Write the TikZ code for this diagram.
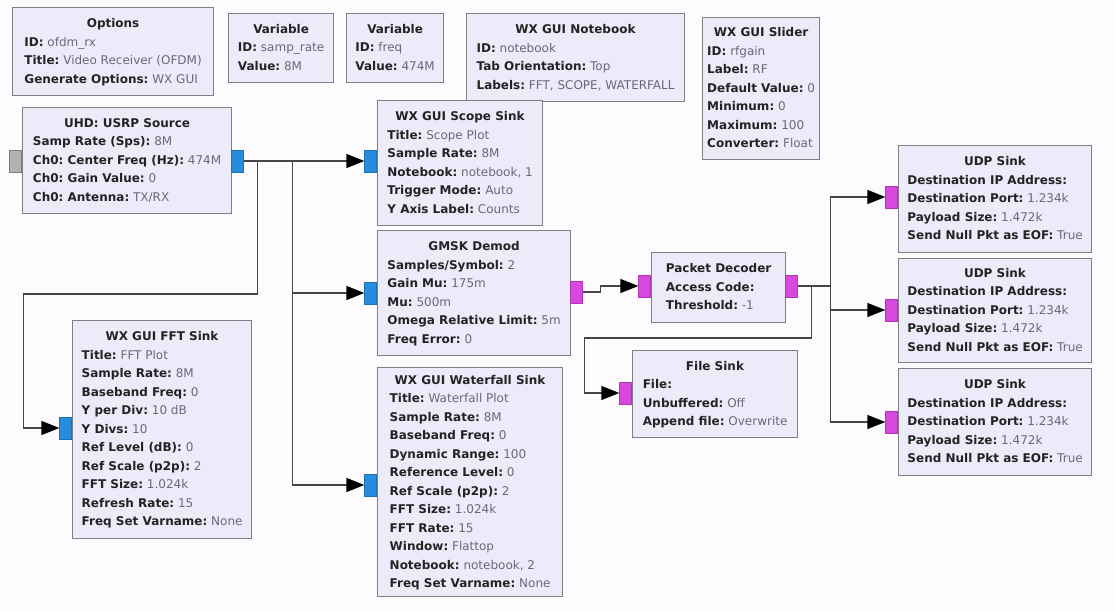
\documentclass[tikz,border=0pt]{standalone}
\usepackage{fontspec}
\setmainfont{DejaVu Sans}
\usetikzlibrary{arrows.meta, positioning}
\frenchspacing
\definecolor{grcbg}{RGB}{253, 251, 253}
\definecolor{grcfill}{RGB}{235, 235, 250}
\definecolor{grcdraw}{RGB}{128, 128, 128}
\definecolor{grcblue}{RGB}{38, 140, 222}
\definecolor{grcmagenta}{RGB}{216, 72, 224}
\definecolor{grcgray}{RGB}{178, 178, 178}
\definecolor{grcwire}{RGB}{70, 70, 70}
\definecolor{grckey}{RGB}{35, 35, 35}
\definecolor{grcval}{RGB}{105, 105, 118}

% key/value line and block text
\newcommand{\kv}[2]{\textbf{#1:}\ {\color{grcval}#2}}
\newcommand{\blocktext}[2]{\begin{tabular}{@{}l@{}}\multicolumn{1}{@{}c@{}}{\textbf{#1}}\\#2\end{tabular}}

\begin{document}
\begin{tikzpicture}[
    x=1pt, y=-1pt,
    block/.style={rectangle, draw=grcdraw, fill=grcfill, line width=1.2pt,
        anchor=north west, inner sep=0pt, text=grckey,
        font=\fontsize{12}{18.5}\selectfont},
    port/.style={rectangle, inner sep=0pt, minimum width=12pt, minimum height=22pt,
        line width=0.6pt},
    inport/.style={port, anchor=east},
    outport/.style={port, anchor=west},
    blueport/.style={fill=grcblue, draw=grcblue!80!black},
    magport/.style={fill=grcmagenta, draw=grcmagenta!80!black},
    grayport/.style={fill=grcgray, draw=grcgray!70!black},
    wire/.style={draw=grcwire, line width=1.3pt},
    arrow/.style={wire, -{Triangle[length=18pt, width=14pt, color=black]}}
]

% === Canvas ===
\fill[grcbg] (0,0) rectangle (1115,612);

% === Variables and options (top row) ===
\node[block, minimum width=201pt, minimum height=88pt] (opts) at (12,7)
    {\blocktext{Options}{\kv{ID}{ofdm\_rx}\\ \kv{Title}{Video Receiver (OFDM)}\\
     \kv{Generate Options}{WX GUI}}};
\node[block, minimum width=105pt, minimum height=69pt] (vsamp) at (228,13)
    {\blocktext{Variable}{\kv{ID}{samp\_rate}\\ \kv{Value}{8M}}};
\node[block, minimum width=97pt, minimum height=69pt] (vfreq) at (346,13)
    {\blocktext{Variable}{\kv{ID}{freq}\\ \kv{Value}{474M}}};
\node[block, minimum width=218pt, minimum height=88pt] (nbook) at (466,13)
    {\blocktext{WX GUI Notebook}{\kv{ID}{notebook}\\ \kv{Tab Orientation}{Top}\\
     \kv{Labels}{FFT, SCOPE, WATERFALL}}};
\node[block, minimum width=117pt, minimum height=142pt] (slider) at (702,17)
    {\blocktext{WX GUI Slider}{\kv{ID}{rfgain}\\ \kv{Label}{RF}\\ \kv{Default Value}{0}\\
     \kv{Minimum}{0}\\ \kv{Maximum}{100}\\ \kv{Converter}{Float}}};

% === Source ===
\node[block, minimum width=209pt, minimum height=106pt] (usrp) at (22,107)
    {\blocktext{UHD: USRP Source}{\kv{Samp Rate (Sps)}{8M}\\
     \kv{Ch0: Center Freq (Hz)}{474M}\\ \kv{Ch0: Gain Value}{0}\\ \kv{Ch0: Antenna}{TX/RX}}};

% === Sinks and demodulator ===
\node[block, minimum width=165pt, minimum height=125pt] (scope) at (377,100)
    {\blocktext{WX GUI Scope Sink}{\kv{Title}{Scope Plot}\\ \kv{Sample Rate}{8M}\\
     \kv{Notebook}{notebook, 1}\\ \kv{Trigger Mode}{Auto}\\ \kv{Y Axis Label}{Counts}}};
\node[block, minimum width=193pt, minimum height=125pt] (gmsk) at (377,230)
    {\blocktext{GMSK Demod}{\kv{Samples/Symbol}{2}\\ \kv{Gain Mu}{175m}\\ \kv{Mu}{500m}\\
     \kv{Omega Relative Limit}{5m}\\ \kv{Freq Error}{0}}};
\node[block, minimum width=185pt, minimum height=229pt] (wfall) at (377,367)
    {\blocktext{WX GUI Waterfall Sink}{\kv{Title}{Waterfall Plot}\\ \kv{Sample Rate}{8M}\\
     \kv{Baseband Freq}{0}\\ \kv{Dynamic Range}{100}\\ \kv{Reference Level}{0}\\
     \kv{Ref Scale (p2p)}{2}\\ \kv{FFT Size}{1.024k}\\ \kv{FFT Rate}{15}\\
     \kv{Window}{Flattop}\\ \kv{Notebook}{notebook, 2}\\ \kv{Freq Set Varname}{None}}};
\node[block, minimum width=179pt, minimum height=218pt] (fft) at (72,320)
    {\blocktext{WX GUI FFT Sink}{\kv{Title}{FFT Plot}\\ \kv{Sample Rate}{8M}\\
     \kv{Baseband Freq}{0}\\ \kv{Y per Div}{10 dB}\\ \kv{Y Divs}{10}\\
     \kv{Ref Level (dB)}{0}\\ \kv{Ref Scale (p2p)}{2}\\ \kv{FFT Size}{1.024k}\\
     \kv{Refresh Rate}{15}\\ \kv{Freq Set Varname}{None}}};
\node[block, minimum width=134pt, minimum height=70pt] (pkt) at (651,252)
    {\blocktext{Packet Decoder}{\kv{Access Code}{}\\ \kv{Threshold}{-1}}};
\node[block, minimum width=165pt, minimum height=87pt] (file) at (632,350)
    {\blocktext{File Sink}{\kv{File}{}\\ \kv{Unbuffered}{Off}\\ \kv{Append file}{Overwrite}}};

% === UDP sinks ===
\foreach \i/\y/\h in {1/145/107, 2/258/104, 3/368/107} {
    \node[block, minimum width=193pt, minimum height=\h pt] (udp\i) at (898,\y)
        {\blocktext{UDP Sink}{\kv{Destination IP Address}{}\\ \kv{Destination Port}{1.234k}\\
         \kv{Payload Size}{1.472k}\\ \kv{Send Null Pkt as EOF}{True}}};
}

% === Ports ===
\node[inport, grayport] (usrpmsg) at (22,161) {};
\node[outport, blueport] (usrpout) at (231,161) {};
\node[inport, blueport] (scopein) at (377,161) {};
\node[inport, blueport] (gmskin) at (377,293) {};
\node[outport, magport] (gmskout) at (570,292) {};
\node[inport, blueport] (wfallin) at (377,485) {};
\node[inport, blueport] (fftin) at (72,428) {};
\node[inport, magport] (pktin) at (651,286) {};
\node[outport, magport] (pktout) at (785,286) {};
\node[inport, magport] (filein) at (632,393) {};
\node[inport, magport] (udpin1) at (898,197) {};
\node[inport, magport] (udpin2) at (898,310) {};
\node[inport, magport] (udpin3) at (898,422) {};

% === Connections ===
\draw[arrow] (usrpout.east) -- (scopein.west);
\draw[arrow] (usrpout.east) -- ++(14,0) |- ++(-234,133) |- (fftin.west);
\draw[arrow] (usrpout.east) -- ++(49,0) |- (gmskin.west);
\draw[arrow] (usrpout.east) -- ++(49,0) |- (wfallin.west);
\draw[arrow] (gmskout.east) -- ++(18,0) |- (pktin.west);
\draw[arrow] (pktout.east) -- ++(14,0) |- ++(-227,52) |- (filein.west);
\foreach \i in {1,2,3}
    \draw[arrow] (pktout.east) -- ++(33,0) |- (udpin\i.west);

\end{tikzpicture}
\end{document}
